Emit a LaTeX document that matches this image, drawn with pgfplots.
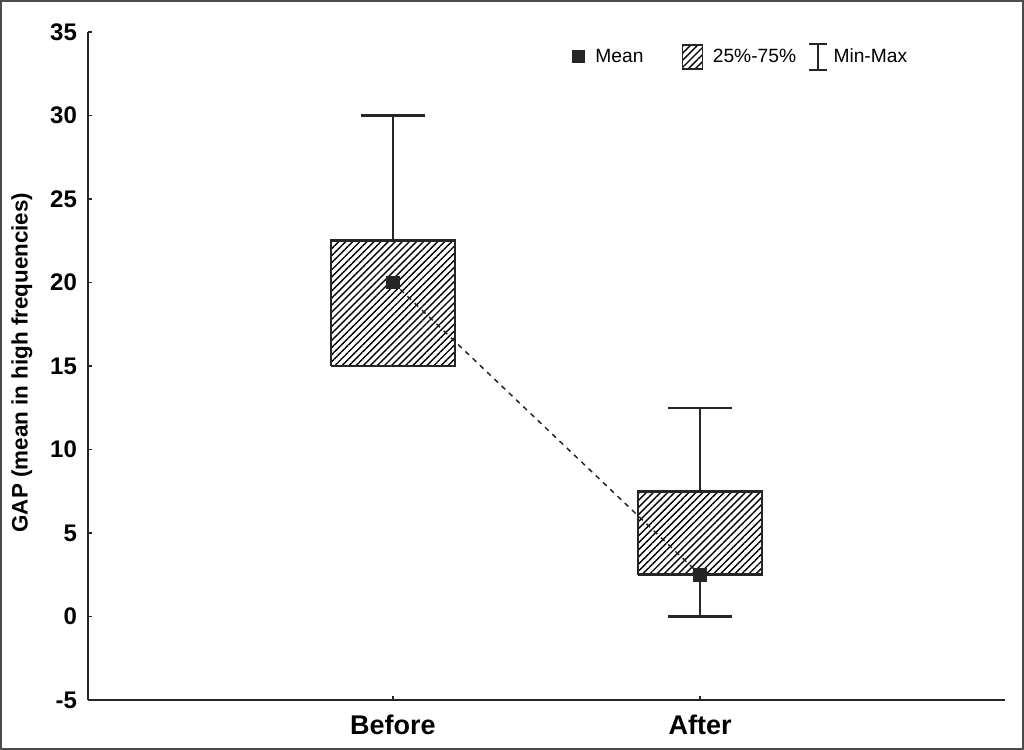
\documentclass[border=0pt]{standalone}
\usepackage{fontspec}
\setmainfont{Liberation Sans}
\usepackage{pgfplots}
\pgfplotsset{compat=1.18}
\usetikzlibrary{patterns.meta}
\definecolor{ink}{gray}{0.15}
\tikzset{hatch/.style={pattern={Lines[angle=45,distance=2.5pt,line width=0.7pt]}}}
\begin{document}
\begin{tikzpicture}
\begin{axis}[
  scale only axis, width=458.5pt, height=334pt,
  xmin=-0.993, xmax=1.993, ymin=-5, ymax=35,
  axis x line=bottom, axis y line=left,
  axis line style={line width=1.2pt, -, ink},
  ytick={-5,0,5,10,15,20,25,30,35},
  xtick={0,1}, xticklabels={Before,After},
  tick align=inside, major tick length=2pt,
  tick style={line width=0.8pt, ink},
  /pgf/number format/assume math mode=true,
  yticklabel style={font=\bfseries\fontsize{12}{14}\selectfont, xshift=-2pt},
  xticklabel style={font=\bfseries\fontsize{13.5}{16}\selectfont, yshift=-4pt},
  ylabel={GAP (mean in high frequencies)},
  every axis y label/.style={at={(axis description cs:-0.0720,0.505)}, rotate=90, anchor=center, font=\bfseries\fontsize{11.2}{13}\selectfont},
  legend columns=3,
  legend style={at={(axis description cs:0.527,0.963)}, anchor=west, draw=none, fill=none,
    inner sep=0pt, font=\fontsize{9.6}{11}\selectfont,
    /tikz/every even column/.append style={column sep=0pt}},
]
% Before: box 25%-75% (15 to 22.5), min 15, max 30
\addplot[forget plot, ink, line width=1.3pt, line join=miter, hatch]
  coordinates {(-0.202,15) (0.202,15) (0.202,22.5) (-0.202,22.5) (-0.202,15)};
\addplot[forget plot, ink, line width=1.2pt] coordinates {(0,22.5) (0,30)};
\addplot[forget plot, ink, line width=1.2pt] coordinates {(-0.103,30) (0.103,30)};
\addplot[forget plot, ink, line width=1.2pt] coordinates {(-0.103,15) (0.103,15)};
% After: box 25%-75% (2.5 to 7.5), min 0, max 12.5
\addplot[forget plot, ink, line width=1.3pt, line join=miter, hatch]
  coordinates {(0.798,2.5) (1.202,2.5) (1.202,7.5) (0.798,7.5) (0.798,2.5)};
\addplot[forget plot, ink, line width=1.2pt] coordinates {(1,7.5) (1,12.5)};
\addplot[forget plot, ink, line width=1.2pt] coordinates {(0.897,12.5) (1.103,12.5)};
\addplot[forget plot, ink, line width=1.2pt] coordinates {(1,2.5) (1,0)};
\addplot[forget plot, ink, line width=1.2pt] coordinates {(0.897,0) (1.103,0)};
% means
\addplot[forget plot, ink, line width=0.75pt, dash pattern=on 2.5pt off 2.5pt,
  mark=square*, mark size=3.1pt, mark options={solid, fill=ink}] coordinates {(0,20) (1,2.5)};
% legend
\addlegendimage{legend image code/.code={\path[draw=none] (0pt,-7pt) -- (0pt,7pt); \fill[ink] (0pt,-3pt) rectangle (6pt,3pt); \path (9.5pt,0pt);}}
\addlegendentry{\strut Mean}
\addlegendimage{legend image code/.code={\path[draw=none] (-17.5pt,-7pt) -- (-17.5pt,7pt); \draw[ink, line width=0.9pt, hatch] (0pt,-6pt) rectangle (10pt,6pt); \path (13pt,0pt);}}
\addlegendentry{\strut 25\%-75\%}
\addlegendimage{legend image code/.code={\path[draw=none] (-4.5pt,-7pt) -- (-4.5pt,7pt); \draw[ink, line width=1.1pt] (0pt,-6.5pt) -- (9pt,-6.5pt) (4.5pt,-6.5pt) -- (4.5pt,6.5pt) (0pt,6.5pt) -- (9pt,6.5pt); \path (10pt,0pt);}}
\addlegendentry{\strut Min-Max}
\end{axis}
\draw[gray!60!black, line width=1pt] (-43.5pt,-24.5pt) rectangle (467.5pt,349.5pt);
\pgfresetboundingbox
\useasboundingbox (-44pt,-25pt) rectangle (468pt,350pt);
\end{tikzpicture}
\end{document}
